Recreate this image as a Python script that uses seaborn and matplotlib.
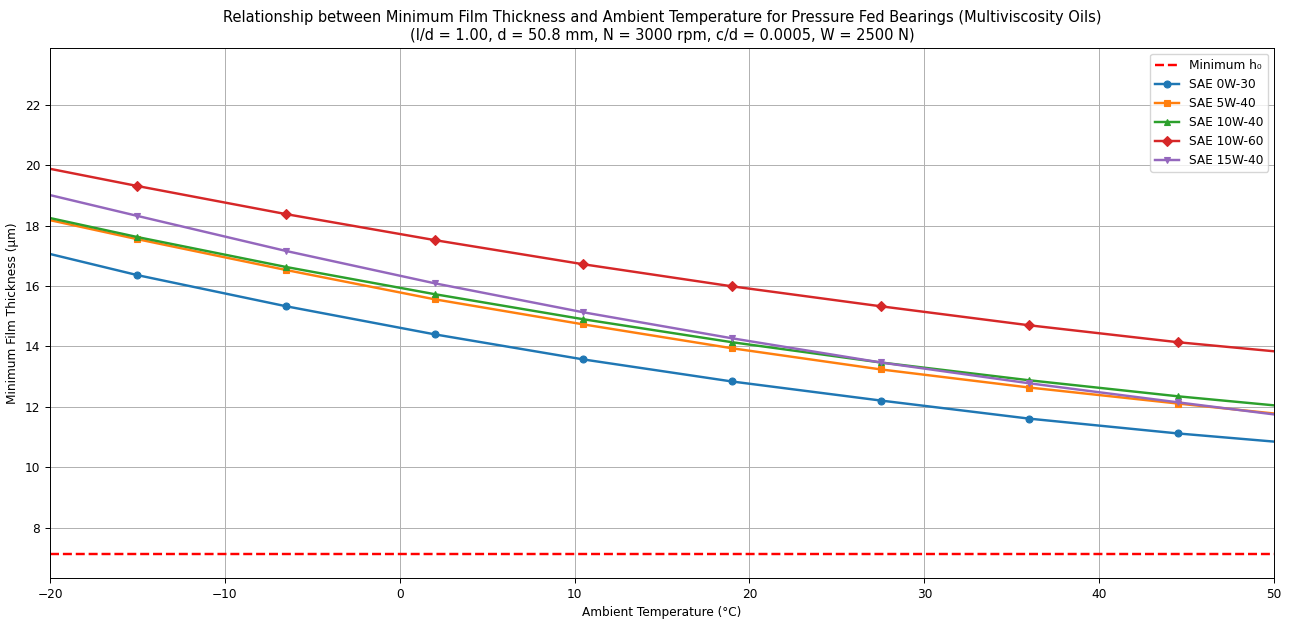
import matplotlib
matplotlib.use("Agg")
import matplotlib.pyplot as plt
import seaborn as sns
import pandas as pd

temps = [-20, -15, -6.5, 2, 10.5, 19, 27.5, 36, 44.5, 50]
h_0w30 = [17.06, 16.36, 15.33, 14.40, 13.57, 12.84, 12.21, 11.61, 11.12, 10.85]
h_5w40 = [18.18, 17.55, 16.53, 15.56, 14.73, 13.94, 13.24, 12.64, 12.11, 11.78]
h_10w40 = [18.25, 17.62, 16.63, 15.73, 14.90, 14.14, 13.47, 12.88, 12.35, 12.05]
h_10w60 = [19.88, 19.31, 18.38, 17.52, 16.72, 15.99, 15.33, 14.70, 14.14, 13.84]
h_15w40 = [19.01, 18.32, 17.16, 16.09, 15.13, 14.27, 13.47, 12.78, 12.15, 11.75]
h_min = 7.12

oil_names = ["SAE 0W-30", "SAE 5W-40", "SAE 10W-40", "SAE 10W-60", "SAE 15W-40"]
oil_values = [h_0w30, h_5w40, h_10w40, h_10w60, h_15w40]
markers = ["o", "s", "^", "D", "v"]
colors = ["#1f77b4", "#ff7f0e", "#2ca02c", "#d62728", "#9467bd"]

plt.rcParams.update({"font.size": 8.7, "axes.linewidth": 0.7,
                     "xtick.major.width": 0.7, "ytick.major.width": 0.7,
                     "grid.linewidth": 0.7})

fig, ax = plt.subplots(figsize=(12.9, 6.19), dpi=100)
fig.subplots_adjust(left=0.0388, right=0.9876, top=0.9225, bottom=0.066)

ax.axhline(h_min, color="red", linestyle="--", linewidth=1.75, label="Minimum h\u2080")

for name, vals, mk, c in zip(oil_names, oil_values, markers, colors):
    df = pd.DataFrame({"T": temps, "h": vals})
    sns.lineplot(data=df, x="T", y="h", ax=ax, color=c, linewidth=1.75,
                 marker=mk, markersize=5, markeredgewidth=0.8, markeredgecolor=c,
                 markevery=list(range(1, len(temps) - 1)), label=name)

ax.set_xlim(-20, 50)
ax.set_ylim(6.33, 23.88)
ax.grid(True)
ax.set_xlabel("Ambient Temperature (\u00b0C)")
ax.set_ylabel("Minimum Film Thickness (\u03bcm)")
ax.set_title("Relationship between Minimum Film Thickness and Ambient Temperature for Pressure Fed Bearings (Multiviscosity Oils)\n"
             "(l/d = 1.00, d = 50.8 mm, N = 3000 rpm, c/d = 0.0005, W = 2500 N)", fontsize=10.5)
ax.legend(loc="upper right")

fig.savefig("out.png", dpi=100)
